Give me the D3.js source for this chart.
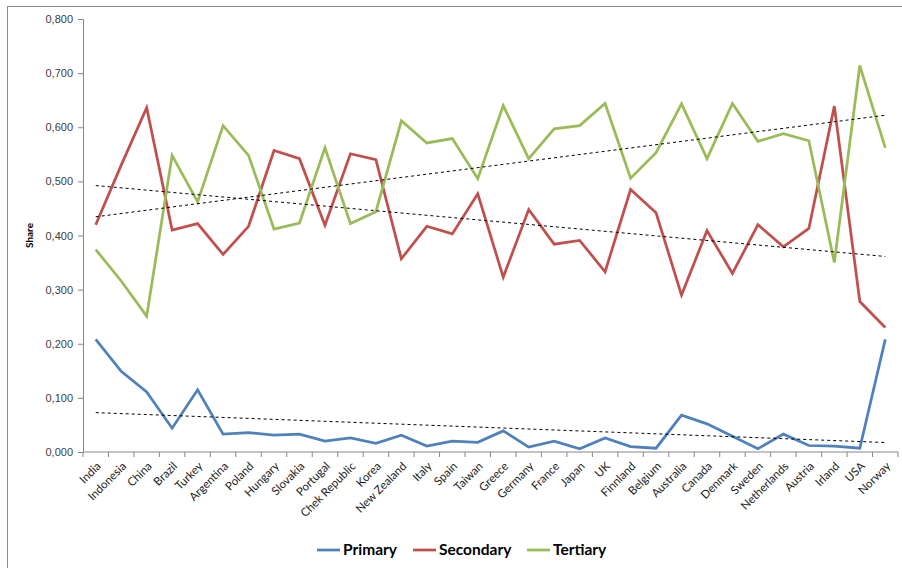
<!DOCTYPE html>
<html>
<head>
<meta charset="utf-8">
<script src="https://cdn.jsdelivr.net/npm/d3@7"></script>
<style>
	html, body { margin: 0; padding: 0; background: #fff; }
	svg { display: block; font-family: Lato, "Open Sans", sans-serif; }
</style>
</head>
<body>
<svg id="chart" width="902" height="568"></svg>
<script>
	const countries = ["India", "Indonesia", "China", "Brazil", "Turkey", "Argentina", "Poland", "Hungary",
		"Slovakia", "Portugal", "Chek Republic", "Korea", "New Zealand", "Italy", "Spain", "Taiwan",
		"Greece", "Germany", "France", "Japan", "UK", "Finnland", "Belgium", "Australia",
		"Canada", "Denmark", "Sweden", "Netherlands", "Austria", "Irland", "USA", "Norway"];

	const primary = [0.208, 0.149, 0.111, 0.044, 0.115, 0.033, 0.036, 0.031,
		0.033, 0.020, 0.026, 0.016, 0.031, 0.011, 0.020, 0.018,
		0.039, 0.009, 0.020, 0.006, 0.026, 0.010, 0.007, 0.068,
		0.052, 0.029, 0.006, 0.033, 0.012, 0.011, 0.007, 0.208];

	const secondary = [0.420, 0.530, 0.636, 0.410, 0.422, 0.365, 0.417, 0.557,
		0.542, 0.419, 0.551, 0.540, 0.357, 0.417, 0.403, 0.477,
		0.323, 0.448, 0.384, 0.391, 0.333, 0.485, 0.442, 0.290,
		0.409, 0.330, 0.420, 0.379, 0.413, 0.639, 0.278, 0.230];

	const tertiary = [0.374, 0.316, 0.251, 0.548, 0.462, 0.603, 0.548, 0.412,
		0.423, 0.562, 0.422, 0.444, 0.612, 0.571, 0.579, 0.505,
		0.640, 0.542, 0.597, 0.603, 0.644, 0.506, 0.553, 0.643,
		0.542, 0.644, 0.574, 0.588, 0.575, 0.350, 0.714, 0.562];

	const yTicks = [0, 0.1, 0.2, 0.3, 0.4, 0.5, 0.6, 0.7, 0.8];

	const series = [
		{ name: "Primary", values: primary, color: "#4F81BD" },
		{ name: "Secondary", values: secondary, color: "#C0504D" },
		{ name: "Tertiary", values: tertiary, color: "#9BBB59" }
	];

	const plot = { left: 83, right: 898, top: 19, bottom: 452 };
	const svg = d3.select("#chart");

	// outer chart frame (right/bottom edges fall outside the picture)
	svg.append("rect")
		.attr("x", 7.5).attr("y", 6.5)
		.attr("width", 910).attr("height", 580)
		.attr("fill", "none")
		.attr("stroke", "#8c8c8c");

	const x = d3.scaleBand()
		.domain(countries)
		.range([plot.left, plot.right]);

	const y = d3.scaleLinear()
		.domain([0, 0.8])
		.range([plot.bottom, plot.top]);

	const cx = name => x(name) + x.bandwidth() / 2;
	const fmt = v => d3.format(".3f")(v).replace(".", ",");

	// y axis
	const yAxis = svg.append("g")
		.attr("transform", `translate(${plot.left},0)`)
		.call(d3.axisLeft(y).tickValues(yTicks).tickFormat(fmt).tickSize(5).tickPadding(5));
	yAxis.selectAll("path, line").attr("stroke", "#868686");
	yAxis.selectAll("text").attr("fill", "#404040").style("font-size", "11px");

	// x axis: ticks sit on band boundaries like Excel
	const xAxis = svg.append("g")
		.attr("transform", `translate(0,${plot.bottom})`);
	xAxis.append("line")
		.attr("x1", plot.left).attr("x2", plot.right)
		.attr("stroke", "#868686");
	const boundaries = countries.map(c => x(c)).concat([plot.right]);
	xAxis.selectAll("line.tick")
		.data(boundaries)
		.join("line")
		.attr("class", "tick")
		.attr("x1", d => d).attr("x2", d => d)
		.attr("y1", 0).attr("y2", 5)
		.attr("stroke", "#868686");
	xAxis.selectAll("text")
		.data(countries)
		.join("text")
		.attr("transform", d => `translate(${cx(d) + 3},${12}) rotate(-45)`)
		.attr("text-anchor", "end")
		.attr("dy", "0.35em")
		.attr("fill", "#1a1a1a")
		.style("font-size", "11.5px")
		.text(d => d);

	// y title
	svg.append("text")
		.attr("transform", `translate(33,${(plot.top + plot.bottom) / 2}) rotate(-90)`)
		.attr("text-anchor", "middle")
		.style("font-size", "10px")
		.style("font-weight", "bold")
		.text("Share");

	// linear trendlines (least squares on category index)
	function trend(values) {
		const n = values.length;
		const idx = d3.range(1, n + 1);
		const mx = d3.mean(idx), my = d3.mean(values);
		const slope = d3.sum(idx, (v, i) => (v - mx) * (values[i] - my)) / d3.sum(idx, v => (v - mx) ** 2);
		return i => my + slope * (i + 1 - mx);
	}

	const line = d3.line()
		.x((d, i) => cx(countries[i]))
		.y(d => y(d));

	series.forEach(s => {
		svg.append("path")
			.datum(s.values)
			.attr("fill", "none")
			.attr("stroke", s.color)
			.attr("stroke-width", 2.75)
			.attr("stroke-linejoin", "miter")
			.attr("d", line);
	});

	series.forEach(s => {
		const f = trend(s.values);
		const last = countries.length - 1;
		svg.append("line")
			.attr("x1", cx(countries[0])).attr("y1", y(f(0)))
			.attr("x2", cx(countries[last])).attr("y2", y(f(last)))
			.attr("stroke", "#000")
			.attr("stroke-width", 1)
			.attr("stroke-dasharray", "3,3");
	});

	// legend
	const legend = svg.append("g").attr("transform", "translate(0,550)");
	const legendX = [317, 413, 527];
	series.forEach((s, i) => {
		const g = legend.append("g").attr("transform", `translate(${legendX[i]},0)`);
		g.append("line")
			.attr("x1", 0).attr("x2", 23)
			.attr("stroke", s.color)
			.attr("stroke-width", 2.75);
		g.append("text")
			.attr("x", 26)
			.attr("dy", "0.35em")
			.style("font-size", "15.5px")
			.style("font-weight", "bold")
			.text(s.name);
	});
</script>
</body>
</html>
